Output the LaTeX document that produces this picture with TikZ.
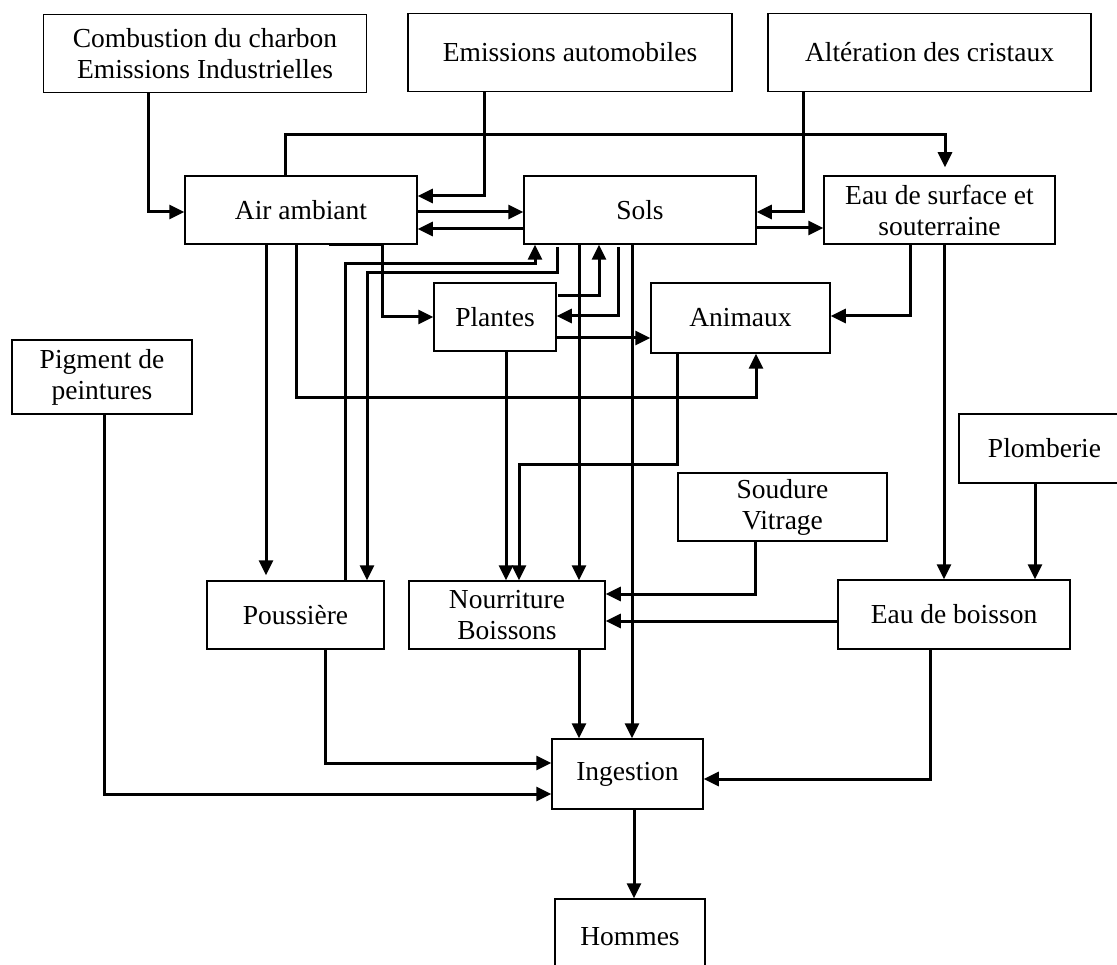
\documentclass[tikz,border=0pt]{standalone}
\usepackage{fontspec}
\setmainfont{Liberation Serif}
\usetikzlibrary{arrows.meta}
\begin{document}
\begin{tikzpicture}[x=1pt,y=-1pt,
  box/.style={draw,line width=1.5pt,inner sep=0pt,align=center,
    font=\fontsize{27.5}{31}\selectfont},
  arr/.style={line width=3pt,-{Triangle[length=15pt,width=14pt]}},
  ln/.style={line width=3pt}]
\useasboundingbox (0,0) rectangle (1117,965);
\fill[white] (0,0) rectangle (1117,965);
\clip (0,0) rectangle (1117,965);
% nodes
\node[box,minimum width=323pt,minimum height=78pt] (comb) at (205,53.5) {Combustion du charbon\\Emissions Industrielles};
\node[box,minimum width=324pt,minimum height=78pt] (emis) at (570,52.5) {Emissions automobiles};
\node[box,minimum width=323pt,minimum height=78pt] (alter) at (929.5,52.5) {Altération des cristaux};
\node[box,minimum width=232pt,minimum height=68pt] (air) at (301,210) {Air ambiant};
\node[box,minimum width=232pt,minimum height=68pt] (sols) at (640,210) {Sols};
\node[box,minimum width=231pt,minimum height=68pt] (eau) at (939.5,210) {Eau de surface et\\souterraine};
\node[box,minimum width=122pt,minimum height=68pt] (plantes) at (495,317) {Plantes};
\node[box,minimum width=179pt,minimum height=70pt] (animaux) at (740.5,318) {Animaux};
\node[box,minimum width=180pt,minimum height=74pt] (pigment) at (102,377) {Pigment de\\peintures};
\node[box,minimum width=171pt,minimum height=69pt] (plomb) at (1044.5,448.5) {Plomberie};
\node[box,minimum width=209pt,minimum height=68pt] (soudure) at (782.5,507) {Soudure\\Vitrage};
\node[box,minimum width=177pt,minimum height=68pt] (pous) at (295.5,615) {Poussière};
\node[box,minimum width=196pt,minimum height=68pt] (nour) at (507,615) {Nourriture\\Boissons};
\node[box,minimum width=232pt,minimum height=69pt] (edb) at (954,614.5) {Eau de boisson};
\node[box,minimum width=151pt,minimum height=70pt] (ing) at (627.5,774) {Ingestion};
\node[box,minimum width=150pt,minimum height=76pt] (hommes) at (630,937) {Hommes};
% connectors
\draw[arr] (comb.south -| 148,0) |- (air.west |- 0,212);
\draw[arr] (emis.south -| 484,0) |- (air.east |- 0,196);
\draw[arr] (alter.south -| 803,0) |- (sols.east |- 0,212);
\draw[arr,shorten >=8pt] (air.north -| 285,0) -- (285,135) -| (eau.north -| 945,0);
\draw[arr] (air.east |- 0,212) -- (sols.west |- 0,212);
\draw[arr] (sols.west |- 0,229) -- (air.east |- 0,229);
\draw[arr] (sols.east |- 0,228) -- (eau.west |- 0,228);
\draw[arr,shorten >=5pt] (air.south -| 266,0) -- (pous.north -| 266,0);
\draw[arr] (air.south -| 296,0) -- (296,398) -| (animaux.south -| 756,0);
\draw[arr] (air.south -| 329,0) -| (382,317) -- (plantes.west |- 0,317);
\draw[arr] (pous.north -| 345,0) |- (535,264) -- (sols.south -| 535,0);
\draw[arr] (557,247) |- (367,273) -- (pous.north -| 367,0);
\draw[arr] (sols.south -| 579,0) -- (nour.north -| 579,0);
\draw[arr] (558,296) -| (sols.south -| 599,0);
\draw[arr] (618,247) |- (plantes.east |- 0,316);
\draw[arr] (sols.south -| 632,0) -- (ing.north -| 632,0);
\draw[arr] (plantes.east |- 0,338) -- (animaux.west |- 0,338);
\draw[arr] (plantes.south -| 506,0) -- (nour.north -| 506,0);
\draw[arr] (animaux.south -| 677,0) |- (519,465) -- (nour.north -| 519,0);
\draw[arr] (eau.south -| 910,0) |- (animaux.east |- 0,316);
\draw[arr] (eau.south -| 944,0) -- (edb.north -| 944,0);
\draw[arr] (plomb.south -| 1035,0) -- (edb.north -| 1035,0);
\draw[arr] (soudure.south -| 755,0) |- (nour.east |- 0,594);
\draw[arr] (edb.west |- 0,621) -- (nour.east |- 0,621);
\draw[arr] (nour.south -| 579,0) -- (ing.north -| 579,0);
\draw[arr] (pous.south -| 325,0) |- (ing.west |- 0,763);
\draw[arr] (pigment.south -| 104,0) |- (ing.west |- 0,794);
\draw[arr] (edb.south -| 930,0) |- (ing.east |- 0,779);
\draw[arr] (ing.south -| 634,0) -- (hommes.north -| 634,0);
\end{tikzpicture}
\end{document}
